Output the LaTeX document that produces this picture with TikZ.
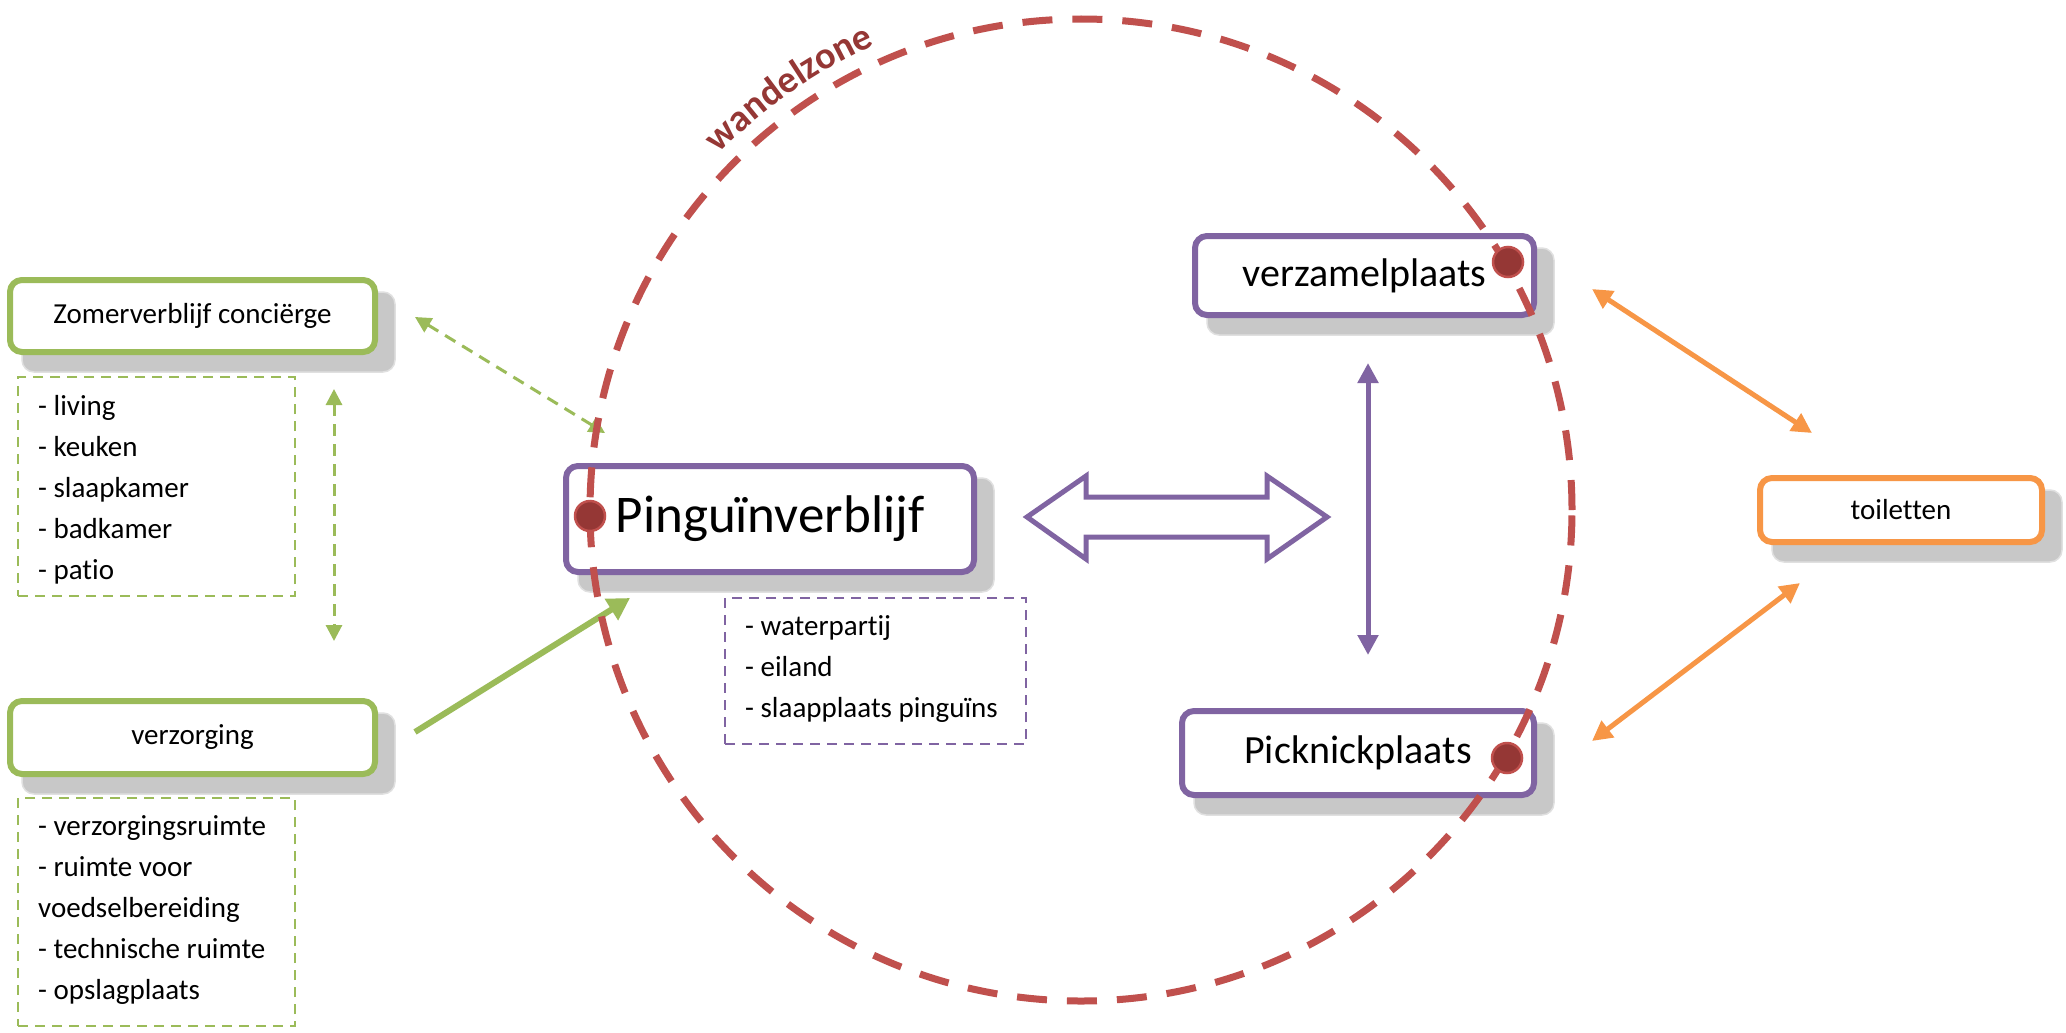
\documentclass[tikz,border=0pt]{standalone}
\usepackage{fontspec}
\setmainfont{Carlito}[Ligatures={NoCommon,NoContextual},Contextuals=NoAlternate]
\usetikzlibrary{arrows.meta,decorations.text,backgrounds}
\definecolor{cgreen}{HTML}{9BBB59}
\definecolor{cpurple}{HTML}{8064A2}
\definecolor{corange}{HTML}{F79646}
\definecolor{cred}{HTML}{C0504D}
\definecolor{cdark}{HTML}{953735}
\definecolor{cshadow}{HTML}{C8C8C8}
\newcommand\wzfont{\fontsize{38}{38}\selectfont\bfseries\color{cdark}}
\begin{document}
\begin{tikzpicture}[x=1pt,y=1pt,
  boxbase/.style={draw, line width=6pt, rounded corners=12pt, fill=white, inner sep=0pt, align=flush center},
  gbox/.style={boxbase, draw=cgreen},
  pbox/.style={boxbase, draw=cpurple},
  obox/.style={boxbase, draw=corange},
  smallfont/.style={font=\fontsize{29}{35}\selectfont},
  midfont/.style={font=\fontsize{40}{48}\selectfont},
  bigfont/.style={font=\fontsize{53}{62}\selectfont},
  shadowbox/.style={fill=cshadow, draw=black!12, line width=1.5pt, rounded corners=12pt},
  listbox/.style={draw, dash pattern=on 10pt off 7pt, line width=2.6pt, inner sep=0pt},
  listtext/.style={inner sep=0pt, align=flush left, text width=270pt, font=\fontsize{29}{41}\selectfont, anchor=base west},
  wzdot/.style={circle, fill=cdark, draw=cred, line width=2.5pt, minimum size=30pt, inner sep=0pt},
  gdash/.style={draw=cgreen, line width=3pt, dash pattern=on 12pt off 8pt, {Triangle[length=16pt,width=16pt]}-{Triangle[length=16pt,width=16pt]}},
  garrow/.style={draw=cgreen, line width=6pt, -{Triangle[length=22pt,width=24pt]}},
  parrow/.style={draw=cpurple, line width=5pt, {Triangle[length=20pt,width=20pt]}-{Triangle[length=20pt,width=20pt]}},
  oarrow/.style={draw=corange, line width=5pt, {Triangle[length=20pt,width=20pt]}-{Triangle[length=20pt,width=20pt]}},
]
\useasboundingbox (0,0) rectangle (2066,-1033);

% boxes
\node[gbox, smallfont, minimum width=365pt, minimum height=72pt] (zv) at (192.5,-316) {Zomerverblijf conciërge};
\node[gbox, smallfont, minimum width=365pt, minimum height=73pt] (vz) at (192.5,-737.5) {verzorging};
\node[pbox, bigfont, minimum width=408pt, minimum height=106pt] (pg) at (770,-519) {Pinguïnverblijf};
\node[pbox, midfont, minimum width=339pt, minimum height=79pt] (vp) at (1364.5,-275.5) {verzamelplaats};
\node[pbox, midfont, minimum width=352pt, minimum height=84pt] (pp) at (1358,-753) {Picknickplaats};
\node[obox, smallfont, minimum width=282pt, minimum height=64pt] (tl) at (1901,-510) {toiletten};

\begin{scope}[on background layer]
  \fill[white] (0,0) rectangle (2066,-1033);
  \foreach \n in {zv,vz,pg,vp,pp,tl}
    \path[shadowbox] ([shift={(15,-17)}]\n.south west) rectangle ([shift={(17,-15)}]\n.north east);
\end{scope}

% list boxes
\node[listbox, draw=cgreen, minimum width=277pt, minimum height=219pt] (l1) at (156.5,-486.5) {};
\node[listtext] (l1t) at (38,-415) {- living\\- keuken\\- slaapkamer\\- badkamer\\- patio};
\node[listbox, draw=cgreen, minimum width=277pt, minimum height=228pt] (l2) at (156.5,-912) {};
\node[listtext] (l2t) at (38,-835) {- verzorgingsruimte\\- ruimte voor\\voedselbereiding\\- technische ruimte\\- opslagplaats};
\node[listbox, draw=cpurple, minimum width=301pt, minimum height=146pt] (l3) at (875.5,-671) {};
\node[listtext] (l3t) at (745,-635) {- waterpartij\\- eiland\\- slaapplaats pinguïns};

% connector end points
\coordinate (gd1) at (415,-317);
\coordinate (gd2) at (605,-433);
\coordinate (gv1) at (334,-389);
\coordinate (gv2) at (334,-641);
\coordinate (gs1) at (415,-732);
\coordinate (gs2) at (630,-598);
\coordinate (pv1) at (1368,-363);
\coordinate (pv2) at (1368,-655);
\coordinate (o1a) at (1592,-289);
\coordinate (o1b) at (1812,-433);
\coordinate (o2a) at (1800,-583);
\coordinate (o2b) at (1592,-741);

\draw[gdash] (gd1) -- (gd2);
\draw[gdash] (gv1) -- (gv2);
\draw[garrow] (gs1) -- (gs2);
\draw[parrow] (pv1) -- (pv2);
\draw[oarrow] (o1a) -- (o1b);
\draw[oarrow] (o2a) -- (o2b);

% big hollow double arrow
\draw[cpurple, line width=5pt, fill=white, line join=miter]
  (1027,-517) -- (1086,-476) -- (1086,-497) -- (1267,-497) -- (1267,-476)
  -- (1327,-517) -- (1267,-559) -- (1267,-537) -- (1086,-537) -- (1086,-559) -- cycle;

% walking zone
\node[circle, draw=cred, line width=7pt, dash pattern=on 30pt off 20pt, minimum size=982pt, inner sep=0pt] (wz) at (1081,-510) {};
\path[decorate, decoration={text along path, text={|\wzfont|wandelzone}, text align=left}]
  (718.7,-153.9) arc[start angle=135.5, end angle=95, radius=508];

\node[wzdot] (d1) at (590,-516) {};
\node[wzdot] (d2) at (1508,-262) {};
\node[wzdot] (d3) at (1507,-758) {};
\end{tikzpicture}
\end{document}
